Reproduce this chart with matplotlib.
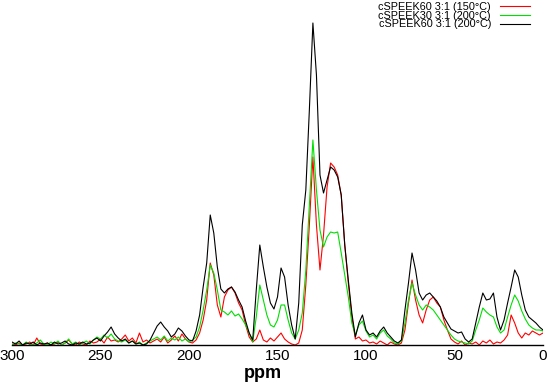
import numpy as np
import matplotlib
matplotlib.use("Agg")
import matplotlib.pyplot as plt

plt.rcParams['font.family'] = ['Liberation Sans', 'DejaVu Sans']

# chemical shift axis, 300 -> 0 ppm in 2 ppm steps
ppm = np.arange(300, -1, -2)

labels = ['cSPEEK60 3:1 (150\u00b0C)',
          'cSPEEK30 3:1 (200\u00b0C)',
          'cSPEEK60 3:1 (200\u00b0C)']
colors = ['#ff0000', '#00e000', '#000000']

# intensities (arbitrary units)
red = [1, 0, 2, 0, 1, 3, 0, 7, 1, 0,
       2, 0, 1, 3, 0, 2, 5, 1, 0, 3,
       1, 0, 4, 2, 3, 6, 2, 8, 4, 5,
       3, 6, 10, 4, 7, 2, 12, 3, 5, 2,
       4, 6, 3, 8, 2, 5, 9, 4, 11, 6,
       3, 2, 5, 12, 25, 45, 82, 70, 40, 28,
       48, 55, 58, 52, 42, 35, 20, 8, 3, 6,
       15, 5, 3, 7, 4, 8, 12, 6, 3, 1,
       0, 2, 15, 60, 120, 188, 120, 75, 110, 158,
       182, 178, 170, 150, 100, 62, 28, 6, 8, 4,
       5, 2, 3, 1, 4, 2, 0, 3, 1, 0,
       2, 15, 42, 65, 45, 30, 22, 35, 45, 48,
       42, 38, 25, 15, 6, 3, 1, 4, 0, 2,
       1, 3, 0, 4, 2, 5, 1, 3, 2, 5,
       10, 30, 22, 12, 7, 12, 10, 14, 12, 10,
       12]

green = [0, 2, 1, 0, 3, 1, 0, 2, 5, 1,
         0, 3, 1, 4, 0, 2, 6, 1, 3, 0,
         2, 4, 1, 5, 8, 6, 10, 7, 11, 6,
         4, 3, 5, 2, 4, 1, 3, 0, 2, 4,
         6, 8, 5, 9, 4, 7, 5, 8, 4, 6,
         3, 5, 8, 18, 35, 55, 80, 72, 55, 35,
         33, 30, 34, 29, 31, 26, 20, 12, 3, 28,
         60, 45, 30, 20, 18, 25, 40, 40, 25, 12,
         6, 15, 32, 75, 140, 205, 155, 115, 98, 108,
         113, 112, 113, 92, 70, 48, 22, 10, 20, 24,
         14, 8, 10, 6, 12, 15, 9, 6, 2, 1,
         4, 22, 45, 62, 50, 40, 35, 40, 38, 35,
         30, 25, 20, 15, 10, 6, 4, 3, 2, 1,
         4, 15, 25, 37, 33, 30, 28, 18, 12, 15,
         28, 40, 50, 44, 34, 26, 20, 17, 15, 15,
         14]

black = [3, 1, 4, 0, 2, 1, 3, 0, 2, 1,
         2, 0, 3, 1, 2, 4, 1, 0, 2, 1,
         3, 1, 2, 5, 7, 4, 9, 13, 18, 11,
         7, 4, 6, 2, 4, 1, 2, 0, 1, 5,
         12, 19, 23, 18, 14, 8, 11, 17, 14, 9,
         5, 4, 14, 30, 58, 82, 130, 112, 78, 56,
         52, 56, 58, 53, 45, 38, 24, 12, 5, 55,
         100, 78, 58, 42, 36, 48, 77, 68, 40, 20,
         6, 42, 120, 155, 235, 322, 270, 170, 152, 165,
         178, 175, 168, 150, 100, 65, 32, 8, 22, 30,
         15, 10, 12, 8, 14, 18, 12, 8, 4, 2,
         5, 35, 62, 92, 75, 52, 45, 50, 52, 48,
         44, 38, 28, 22, 16, 14, 12, 13, 6, 3,
         6, 22, 38, 52, 45, 46, 52, 28, 15, 25,
         42, 58, 75, 68, 50, 35, 28, 25, 22, 18,
         15]

fig = plt.figure(figsize=(5.5, 3.85), dpi=100)
ax = fig.add_axes([12 / 550, 40 / 385, 531 / 550, 345 / 385])

for y, c, lab in zip([red, green, black], colors, labels):
    ax.plot(ppm, y, color=c, lw=0.8, label=lab)

ax.set_xlim(300, 0)
ax.set_ylim(0, 345)
ax.set_xticks([300, 250, 200, 150, 100, 50, 0])
ax.set_yticks([])
for s in ['left', 'right', 'top']:
    ax.spines[s].set_visible(False)
ax.spines['bottom'].set_linewidth(1.0)
ax.tick_params(axis='x', length=0, pad=3, labelsize=11)
ax.set_xlabel('ppm', fontsize=13, fontweight='bold')
ax.xaxis.set_label_coords((263 - 12) / 531, -0.058)

ax.legend(loc='upper right', bbox_to_anchor=(530 / 550, 1 - 2 / 385),
          bbox_transform=fig.transFigure, frameon=False,
          markerfirst=False, fontsize=7.8, handlelength=2.8,
          labelspacing=-0.12, borderaxespad=0, borderpad=0,
          handletextpad=0.8)

fig.savefig('out.png', dpi=100)
